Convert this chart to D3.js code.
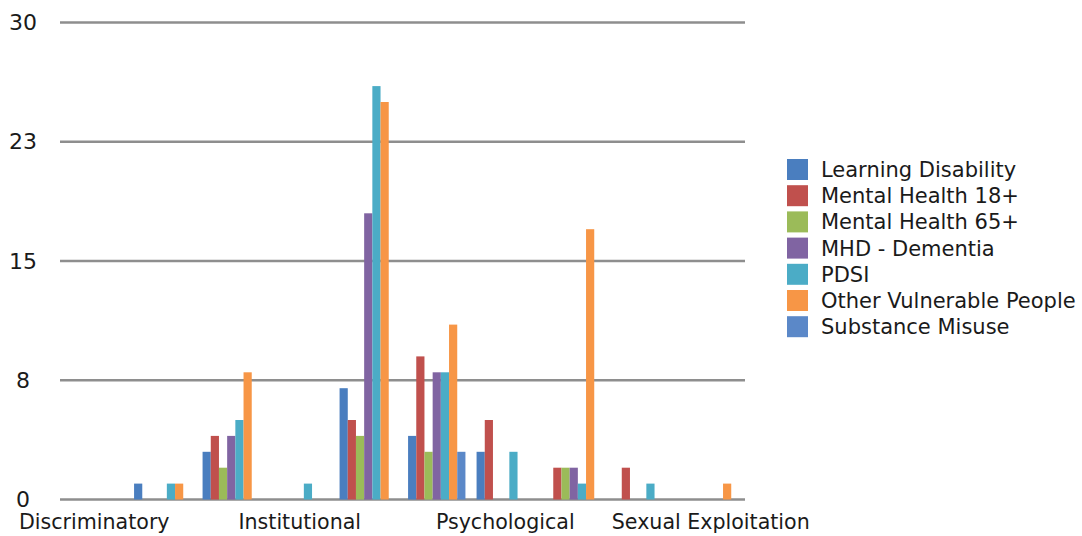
<!DOCTYPE html>
<html>
<head>
<meta charset="utf-8">
<script src="https://cdn.jsdelivr.net/npm/d3@7"></script>
<style>
  html, body { margin: 0; padding: 0; background: #fff; }
  svg text { font-family: "DejaVu Sans", sans-serif; fill: #1a1a1a; }
</style>
</head>
<body>
<svg id="chart" width="1082" height="536"></svg>
<script>
// Abuse categories (only every third one carries a label on the axis)
const categories = [
  "Discriminatory", "Domestic Abuse", "Financial", "Institutional", "Neglect",
  "Physical", "Psychological", "Self Neglect", "Sexual", "Sexual Exploitation"
];
const labelledCategories = ["Discriminatory", "Institutional", "Psychological", "Sexual Exploitation"];

// Client groups (series)
const seriesNames = [
  "Learning Disability", "Mental Health 18+", "Mental Health 65+",
  "MHD - Dementia", "PDSI", "Other Vulnerable People", "Substance Misuse"
];
const seriesColors = ["#4a7ebf", "#c0504d", "#9bbb59", "#8064a2", "#4bacc6", "#f79646", "#5b88c8"];

// Counts per category, one array per client group
const learningDisability = [0, 1, 3, 0, 7, 4, 3, 0, 0, 0];
const mentalHealth18     = [0, 0, 4, 0, 5, 9, 5, 2, 2, 0];
const mentalHealth65     = [0, 0, 2, 0, 4, 3, 0, 2, 0, 0];
const mhdDementia        = [0, 0, 4, 0, 18, 8, 0, 2, 0, 0];
const pdsi               = [0, 1, 5, 1, 26, 8, 3, 1, 1, 0];
const otherVulnerable    = [0, 1, 8, 0, 25, 11, 0, 17, 0, 1];
const substanceMisuse    = [0, 0, 0, 0, 0, 3, 0, 0, 0, 0];

const seriesValues = [
  learningDisability, mentalHealth18, mentalHealth65, mhdDementia,
  pdsi, otherVulnerable, substanceMisuse
];

// Value axis: four equal steps up to 30, labels shown rounded
const yTicks = [0, 7.5, 15, 22.5, 30];
const yTickLabels = ["0", "8", "15", "23", "30"];

const svg = d3.select("#chart");
const plot = { left: 60, right: 745, top: 22.5, bottom: 499.5 };

const x0 = d3.scaleBand()
  .domain(categories)
  .range([plot.left, plot.right])
  .paddingInner(0)
  .paddingOuter(0);

const x1 = d3.scaleBand()
  .domain(seriesNames)
  .range([0, x0.bandwidth()])
  .paddingInner(0)
  .paddingOuter(0.68);

const y = d3.scaleLinear()
  .domain([0, 30])
  .range([plot.bottom, plot.top]);

// Horizontal gridlines (the zero line doubles as the category axis)
svg.append("g")
  .selectAll("line")
  .data(yTicks)
  .join("line")
  .attr("x1", plot.left)
  .attr("x2", plot.right)
  .attr("y1", d => y(d))
  .attr("y2", d => y(d))
  .attr("stroke", "#8e8e8e")
  .attr("stroke-width", 2.4);

// Value labels
svg.append("g")
  .selectAll("text")
  .data(yTicks)
  .join("text")
  .attr("x", 23)
  .attr("y", d => y(d))
  .attr("text-anchor", "middle")
  .attr("dominant-baseline", "central")
  .style("font-size", "22px")
  .text((d, i) => yTickLabels[i]);

// Bars
const rows = [];
categories.forEach((cat, ci) => {
  seriesNames.forEach((s, si) => {
    rows.push({ cat, series: s, value: seriesValues[si][ci], color: seriesColors[si] });
  });
});

svg.append("g")
  .selectAll("rect")
  .data(rows.filter(d => d.value > 0))
  .join("rect")
  .attr("x", d => x0(d.cat) + x1(d.series))
  .attr("width", x1.bandwidth())
  .attr("y", d => y(d.value))
  .attr("height", d => y(0) - y(d.value))
  .attr("fill", d => d.color);

// Category labels under their bands
svg.append("g")
  .selectAll("text")
  .data(labelledCategories)
  .join("text")
  .attr("x", d => x0(d) + x0.bandwidth() / 2)
  .attr("y", 529)
  .attr("text-anchor", "middle")
  .style("font-size", "20.6px")
  .text(d => d);

// Legend
const legend = svg.append("g").attr("transform", "translate(787,159)");
const item = legend.selectAll("g")
  .data(seriesNames)
  .join("g")
  .attr("transform", (d, i) => `translate(0,${i * 26.2})`);

item.append("rect")
  .attr("width", 21)
  .attr("height", 21)
  .attr("fill", (d, i) => seriesColors[i]);

item.append("text")
  .attr("x", 34)
  .attr("y", 11)
  .attr("dominant-baseline", "central")
  .style("font-size", "21px")
  .text(d => d);
</script>
</body>
</html>
